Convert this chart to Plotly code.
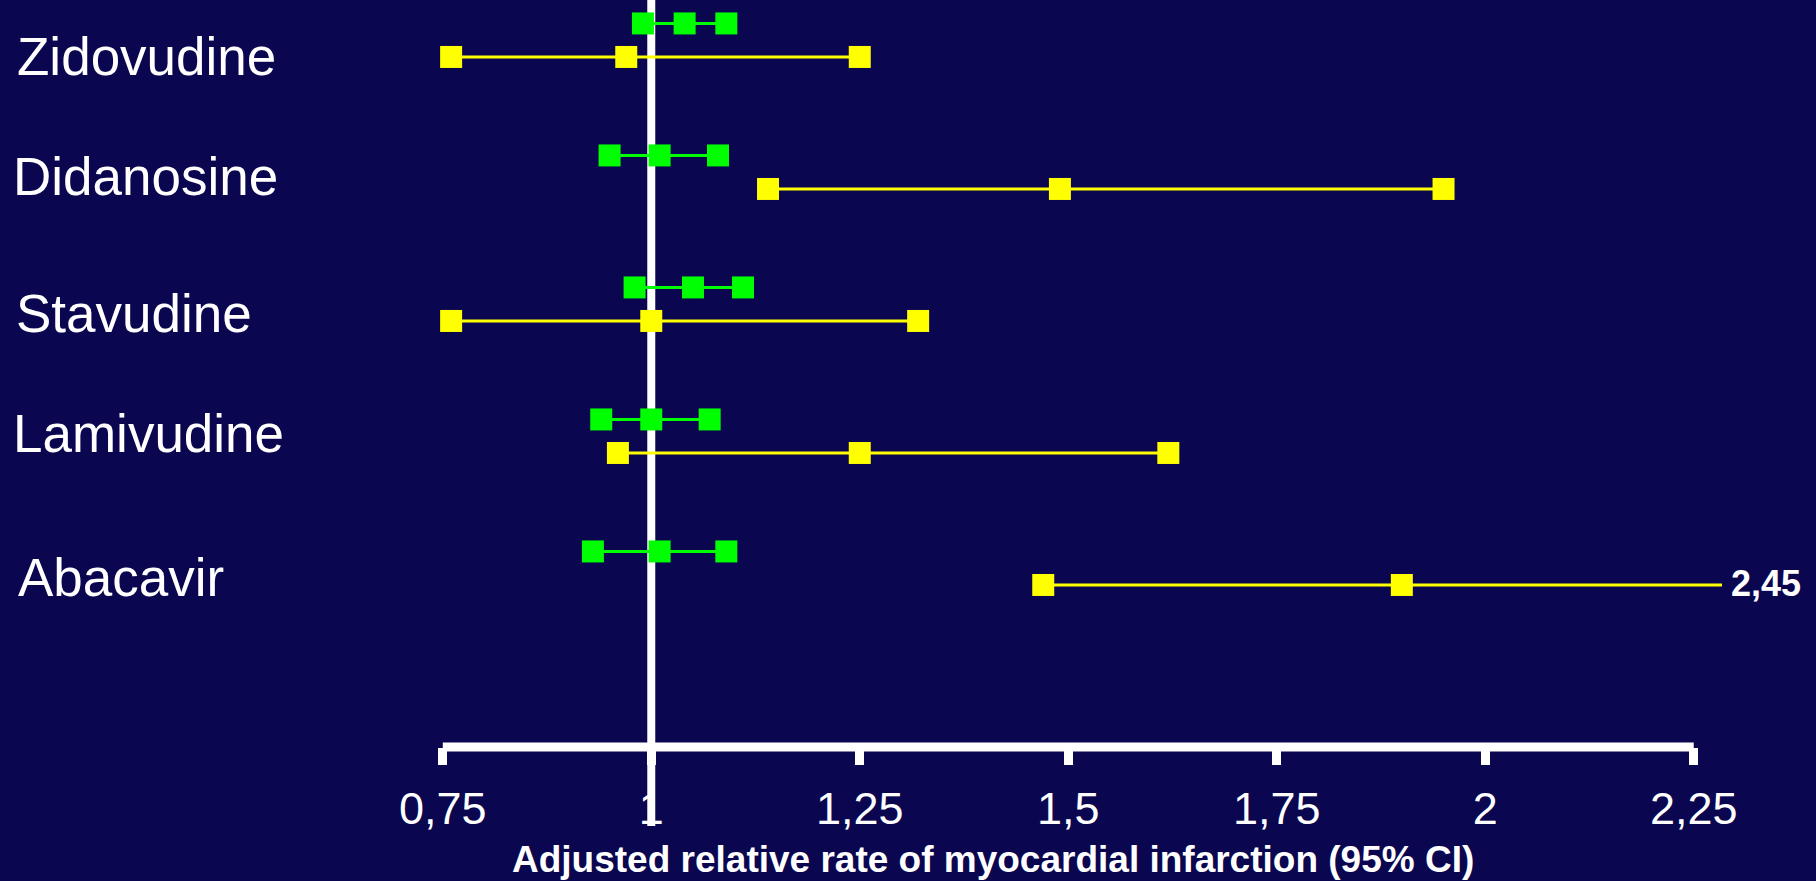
import plotly.graph_objects as go

# ---------------- data ----------------
drugs = ["Zidovudine", "Didanosine", "Stavudine", "Lamivudine", "Abacavir"]

green_lo = [0.99, 0.95, 0.98, 0.94, 0.93]
green_est = [1.04, 1.01, 1.05, 1.00, 1.01]
green_hi = [1.09, 1.08, 1.11, 1.07, 1.09]

yellow_lo = [0.76, 1.14, 0.76, 0.96, 1.47]
yellow_est = [0.97, 1.49, 1.00, 1.25, 1.90]
yellow_hi = [1.25, 1.95, 1.32, 1.62, 2.45]

tick_vals = [0.75, 1.0, 1.25, 1.5, 1.75, 2.0, 2.25]
tick_text = ["0,75", "1", "1,25", "1,5", "1,75", "2", "2,25"]

ref_value = 1.0
x_title = "Adjusted relative rate of myocardial infarction (95% CI)"
clipped_label = "2,45"

# ---------------- layout constants ----------------
W, H = 1816, 881
ML, MR, MT, MB = 400, 94, 0, 134
PW, PH = W - ML - MR, H - MT - MB
BG = "#0a0650"
FONT = "Arial, 'Liberation Sans', sans-serif"
X_RANGE = [0.6987, 2.2839]
Y_RANGE = [5.3545, -0.3045]
ROW_OFF = 0.127

LABEL_X_PX = [15, 11, 14, 11, 16]
LABEL_Y_PX = [56, 176, 313, 433, 577]


def px_to_paper_x(px):
    return (px - ML) / PW


def px_to_paper_y(py):
    return (H - MB - py) / PH


fig = go.Figure()

for i, d in enumerate(drugs):
    fig.add_trace(go.Scatter(
        x=[green_lo[i], green_est[i], green_hi[i]],
        y=[i - ROW_OFF] * 3,
        mode="lines+markers",
        line=dict(color="#00ff00", width=3),
        marker=dict(symbol="square", size=22, color="#00ff00", line=dict(width=0)),
        showlegend=False, hoverinfo="x",
    ))
    fig.add_trace(go.Scatter(
        x=[yellow_lo[i], yellow_est[i], yellow_hi[i]],
        y=[i + ROW_OFF] * 3,
        mode="lines+markers",
        line=dict(color="#ffff00", width=3),
        marker=dict(symbol="square", size=22, color="#ffff00", line=dict(width=0)),
        showlegend=False, hoverinfo="x",
    ))

shapes = [
    # reference line at 1
    dict(type="line", xref="x", yref="paper", x0=ref_value, x1=ref_value,
         y0=px_to_paper_y(826), y1=1.0, line=dict(color="white", width=8), layer="below"),
    # axis line between first and last tick
    dict(type="line", xref="x", yref="paper", x0=tick_vals[0], x1=tick_vals[-1],
         y0=0, y1=0, line=dict(color="white", width=9), layer="above"),
]

annotations = []
for i, d in enumerate(drugs):
    annotations.append(dict(
        text=d, xref="paper", yref="paper",
        x=px_to_paper_x(LABEL_X_PX[i]), y=px_to_paper_y(LABEL_Y_PX[i]),
        xanchor="left", yanchor="middle", showarrow=False,
        font=dict(family=FONT, size=53, color="white"),
    ))
annotations.append(dict(
    text="<b>%s</b>" % clipped_label, xref="paper", yref="paper",
    x=px_to_paper_x(1729), y=px_to_paper_y(583),
    xanchor="left", yanchor="middle", showarrow=False,
    font=dict(family=FONT, size=36, color="white"),
))
annotations.append(dict(
    text="<b>%s</b>" % x_title, xref="paper", yref="paper",
    x=px_to_paper_x(993), y=px_to_paper_y(881), borderpad=0,
    xanchor="center", yanchor="bottom", showarrow=False,
    font=dict(family=FONT, size=37, color="white"),
))

fig.update_layout(
    width=W, height=H,
    margin=dict(l=ML, r=MR, t=MT, b=MB, pad=0),
    paper_bgcolor=BG, plot_bgcolor=BG,
    shapes=shapes, annotations=annotations,
    xaxis=dict(
        range=X_RANGE, showgrid=False, zeroline=False, showline=False,
        tickmode="array", tickvals=tick_vals, ticktext=tick_text,
        ticks="outside", ticklen=17, tickwidth=9, tickcolor="white",
        tickfont=dict(family=FONT, size=45, color="white"),
        ticklabelstandoff=5,
        fixedrange=True,
    ),
    yaxis=dict(
        range=Y_RANGE, showgrid=False, zeroline=False, showline=False,
        showticklabels=False, ticks="", fixedrange=True,
    ),
)

fig.write_html("out.html")
